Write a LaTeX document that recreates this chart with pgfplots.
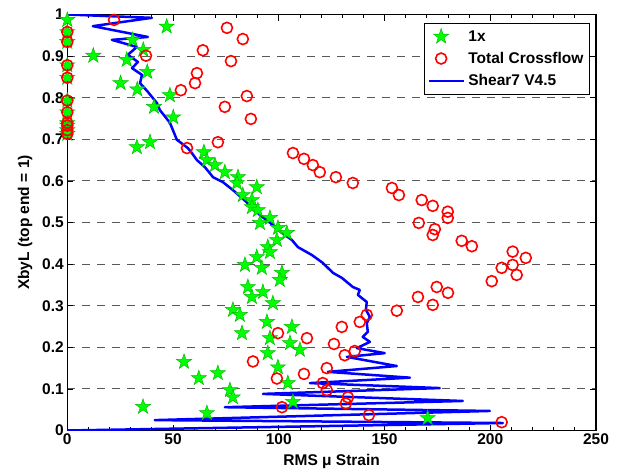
\documentclass[border=0pt]{standalone}
\usepackage{fontspec}
\setmainfont{Liberation Sans}
\usepackage{pgfplots}
\pgfplotsset{compat=1.18}
\pgfdeclareplotmark{pentagram}{%
  \pgfpathmoveto{\pgfpointpolar{90}{\pgfplotmarksize}}%
  \pgfpathlineto{\pgfpointpolar{126}{0.382*\pgfplotmarksize}}%
  \pgfpathlineto{\pgfpointpolar{162}{\pgfplotmarksize}}%
  \pgfpathlineto{\pgfpointpolar{198}{0.382*\pgfplotmarksize}}%
  \pgfpathlineto{\pgfpointpolar{234}{\pgfplotmarksize}}%
  \pgfpathlineto{\pgfpointpolar{270}{0.382*\pgfplotmarksize}}%
  \pgfpathlineto{\pgfpointpolar{306}{\pgfplotmarksize}}%
  \pgfpathlineto{\pgfpointpolar{342}{0.382*\pgfplotmarksize}}%
  \pgfpathlineto{\pgfpointpolar{18}{\pgfplotmarksize}}%
  \pgfpathlineto{\pgfpointpolar{54}{0.382*\pgfplotmarksize}}%
  \pgfpathclose
  \pgfusepathqfillstroke
}
\newcommand{\lblfont}{\fontsize{15.5}{18}\selectfont\bfseries}
\begin{document}
\begin{tikzpicture}
\useasboundingbox (-67.3pt,-44.5pt) rectangle (551.7pt,430.5pt);
\begin{axis}[
  scale only axis, width=528.7pt, height=416pt,
  xmin=0, xmax=250, ymin=0, ymax=1,
  xtick={0,50,100,150,200,250},
  xticklabels={0,50,100,150,200,250},
  ytick={0,0.1,0.2,0.3,0.4,0.5,0.6,0.7,0.8,0.9,1},
  yticklabels={0,0.1,0.2,0.3,0.4,0.5,0.6,0.7,0.8,0.9,1},
  minor x tick num=4,
  tick pos=both, tick align=inside,
  major tick length=6pt, minor tick length=3.5pt,
  every tick/.style={black, line width=0.8pt},
  axis line style={black, line width=1.3pt},
  ymajorgrids,
  major grid style={dash pattern=on 7.5pt off 7.5pt, black!65, line width=1pt},
  /pgf/number format/assume math mode=true,
  tick label style={font=\lblfont},
  xlabel={RMS μ Strain}, ylabel={XbyL (top end = 1)},
  label style={font=\lblfont},
  xlabel style={yshift=-2pt},
  ylabel style={yshift=3pt},
  legend style={at={(1,1)}, anchor=north east, xshift=-6pt, yshift=-8.5pt,
    font=\lblfont, draw=black, line width=1pt, inner xsep=3pt, inner ysep=4pt,
    row sep=3.5pt, cells={anchor=west}, nodes={inner xsep=3pt, inner ysep=3pt}},
  legend image code/.code={\path (0pt,0pt) (35pt,0pt);\draw[mark repeat=2,mark phase=2,#1] plot coordinates {(0pt,0pt) (12pt,0pt) (35pt,0pt)};},
]
\addplot[only marks, mark=pentagram, mark size=8pt, mark options={fill=green, draw=green!75!black, line width=0.5pt}] coordinates {
(0,0.987) (0,0.958) (0,0.934) (0,0.878) (0,0.848) (0,0.793) (0,0.765) (0,0.739) (0,0.733) (0,0.722) (0,0.713)
(12.3,0.901) (47,0.971) (30.9,0.939) (35.9,0.915) (28.1,0.891) (37.8,0.862) (25.2,0.835) (33.1,0.820)
(48.5,0.806) (41,0.778) (50.1,0.753) (32.9,0.681) (39.1,0.693) (64.6,0.669) (66,0.650) (69.8,0.638)
(74.5,0.621) (80.7,0.609) (80.2,0.595) (89.6,0.585) (83,0.566) (87.3,0.554) (87.3,0.537) (90.1,0.530)
(95.8,0.511) (91.1,0.499) (99.6,0.487) (103.8,0.475) (99.1,0.458) (94.8,0.441) (95.8,0.429) (89.6,0.417)
(84,0.398) (92,0.391) (101.5,0.379) (100.5,0.362) (85.4,0.345) (92.5,0.333) (87.3,0.321) (97.2,0.306)
(78.3,0.290) (81.6,0.278) (94.4,0.261) (106.2,0.249) (82.6,0.234) (95.8,0.222) (105.3,0.210) (110,0.194)
(94.8,0.186) (99.6,0.152) (55.2,0.165) (62.2,0.126) (71.2,0.138) (76.9,0.097) (78.3,0.080) (35.8,0.057)
(66,0.042) (104.3,0.114) (106.7,0.069) (170.4,0.030)
};
\addlegendentry{1x}
\addplot[only marks, mark=o, mark size=5.5pt, mark options={draw=red, line width=1.6pt}] coordinates {
(0,0.958) (0,0.934) (0,0.878) (0,0.848) (0,0.793) (0,0.765) (0,0.739) (0,0.733) (0,0.722) (0,0.713)
(22.1,0.987) (75.5,0.968) (83.0,0.941) (64.1,0.914) (37.2,0.901) (77.4,0.888) (61.3,0.859) (60.4,0.835)
(53.7,0.818) (84.9,0.804) (74.5,0.778) (86.8,0.749) (71.2,0.693) (56.6,0.679) (106.7,0.667) (111.9,0.653)
(116.1,0.638) (119.4,0.621) (127,0.609) (135,0.595) (153.5,0.583) (156.8,0.566) (167.6,0.554) (172.8,0.540)
(179.9,0.526) (179.9,0.511) (166.2,0.499) (173.8,0.484) (172.8,0.470) (186.5,0.456) (191.3,0.443) (210.6,0.430)
(216.8,0.415) (210.6,0.398) (205.4,0.391) (212.5,0.374) (200.7,0.359) (174.7,0.345) (180,0.331) (165.8,0.321)
(172.8,0.302) (155.8,0.288) (141.6,0.278) (138.3,0.261) (129.8,0.249) (99.6,0.234) (113.3,0.222) (126.1,0.208)
(135.9,0.191) (131.2,0.181) (87.8,0.166) (122.7,0.150) (111.9,0.136) (99.1,0.125) (120.8,0.114) (122.7,0.097)
(132.7,0.080) (131.7,0.065) (101.5,0.056) (142.6,0.037) (205.4,0.020)
};
\addlegendentry{Total Crossflow}
\addplot[blue, line width=2.5pt, line join=round] coordinates {
(0,1.0) (40,0.992) (12.1,0.972) (38.1,0.946) (21.1,0.939) (32.9,0.922) (28.6,0.903) (33.4,0.886)
(30.6,0.871) (35.3,0.855) (34.4,0.835) (38.1,0.814) (42.4,0.787) (43.8,0.770) (48.5,0.740) (51.8,0.699)
(57,0.679) (58.9,0.667) (61.3,0.650) (65.1,0.633) (68.9,0.609) (73.6,0.597) (78.3,0.578) (82.6,0.559)
(87.3,0.537) (91.1,0.518) (97.2,0.494) (101.5,0.475) (106.2,0.458) (109,0.441) (115.6,0.422) (120.8,0.403)
(125.6,0.379) (129.8,0.367) (135,0.345) (138.3,0.338) (137.4,0.326) (141.6,0.309) (141.2,0.290) (143.1,0.273)
(141.6,0.258) (142.1,0.237) (139.7,0.225) (143.1,0.213)
(136.9,0.198) (150.1,0.186) (132.2,0.177) (155.8,0.155) (123.2,0.141) (162,0.127) (114.7,0.114)
(176.1,0.102) (92.5,0.088) (187,0.071) (74.5,0.056) (199.8,0.047) (41.4,0.025) (206,0.018) (0,0.0)
};
\addlegendentry{Shear7 V4.5}
\end{axis}
\end{tikzpicture}
\end{document}
